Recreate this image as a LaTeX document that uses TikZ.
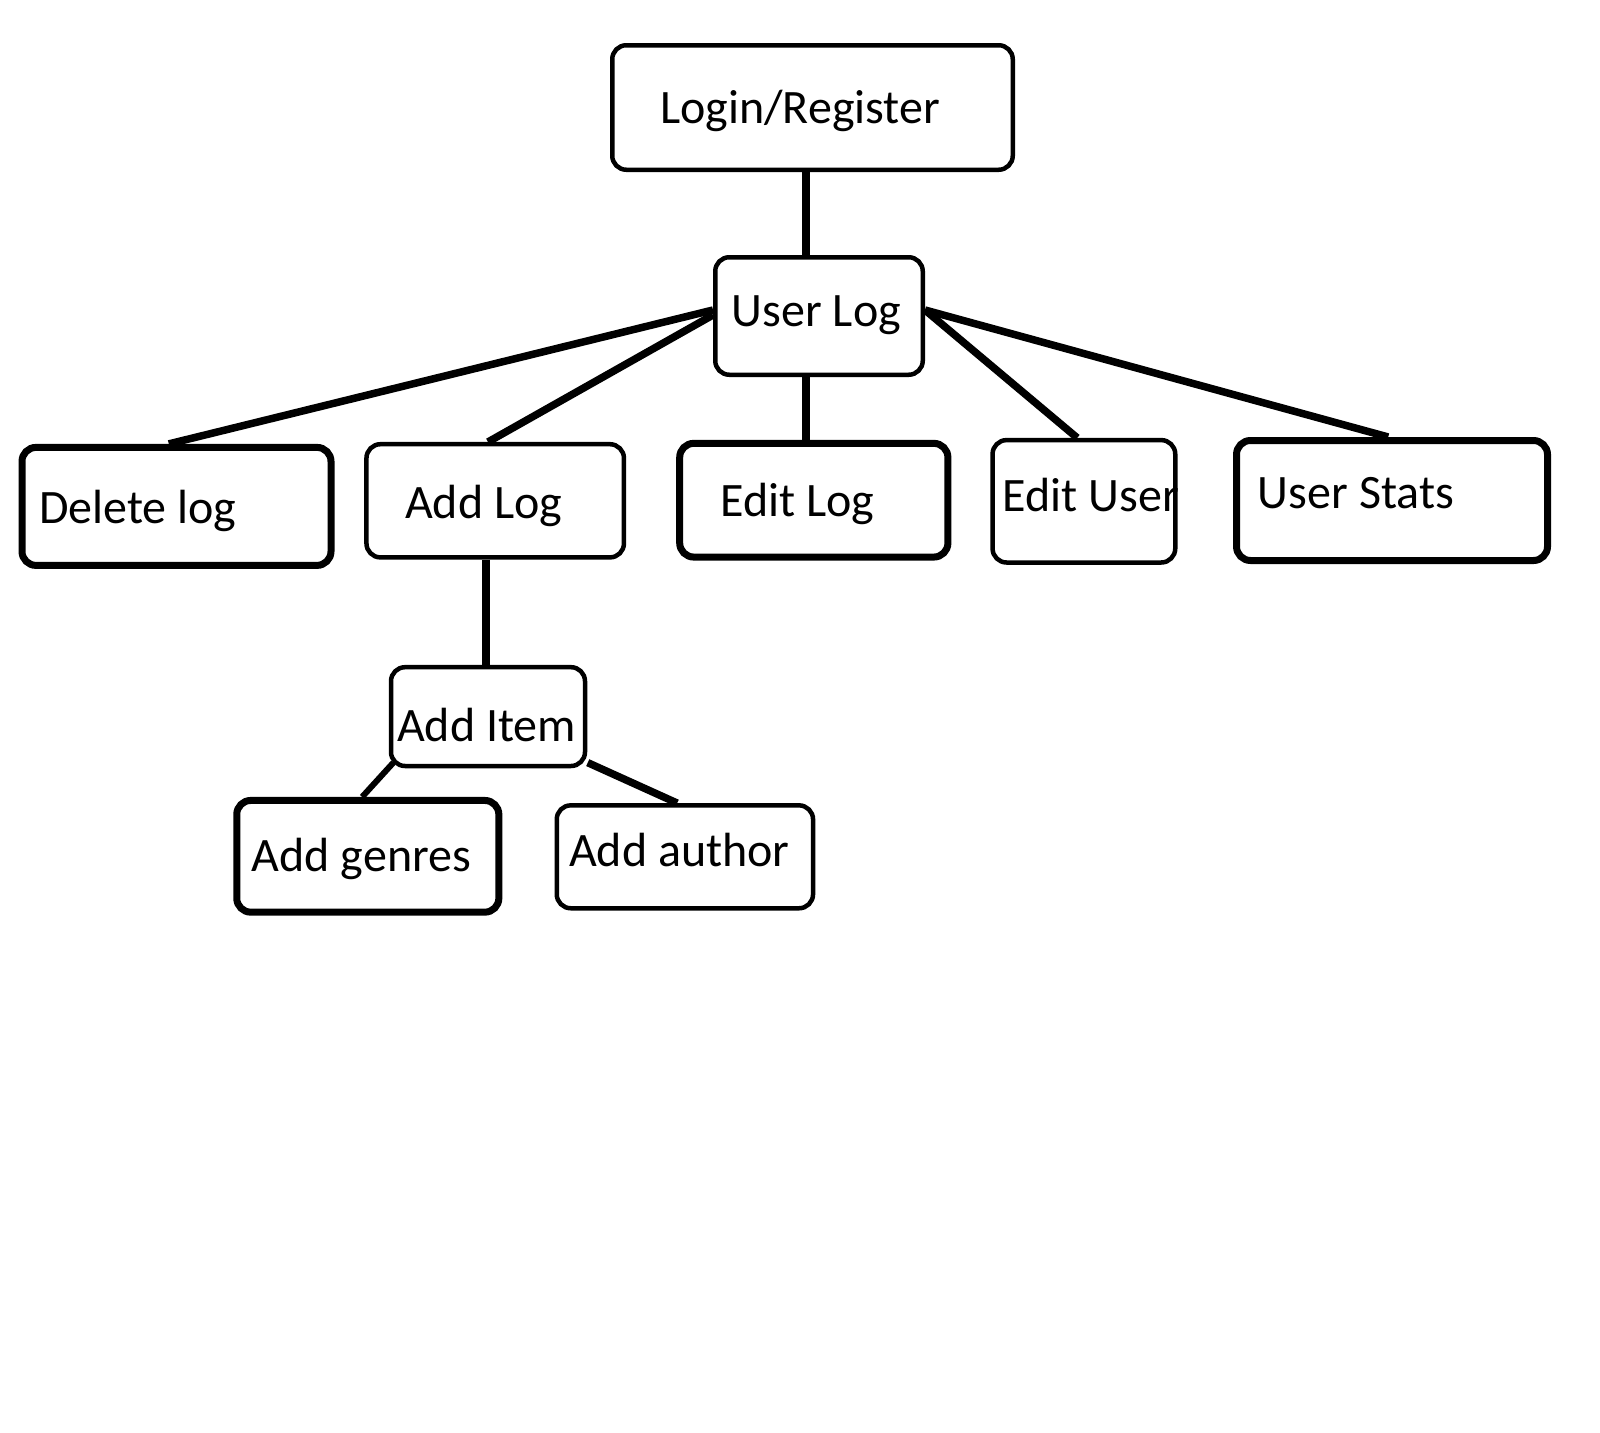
\documentclass[tikz,border=0pt]{standalone}
\usepackage{fontspec}
\setmainfont{Carlito}
\begin{document}
\begin{tikzpicture}[x=1pt,y=-1pt,
 box/.style={draw, rounded corners=14pt, line width=4.5pt, inner sep=0pt},
 thickbox/.style={box, line width=7pt},
 lbl/.style={anchor=base west, inner sep=0pt, font=\fontsize{48}{58}\selectfont},
 link/.style={line width=7.5pt},
 thinlink/.style={line width=6pt}]
\useasboundingbox (0,0) rectangle (1600,1432);
% boxes
\node[box, minimum width=400.5pt, minimum height=124.5pt] (login) at (812.5,107.5) {};
\node[box, minimum width=207.5pt, minimum height=117.5pt] (ul) at (819,316) {};
\node[thickbox, minimum width=309pt, minimum height=118pt] (dl) at (176.5,506.4) {};
\node[box, minimum width=257.5pt, minimum height=113.2pt] (al) at (495.2,500.8) {};
\node[thickbox, minimum width=268.2pt, minimum height=113.7pt] (el) at (813.8,500.2) {};
\node[box, minimum width=182.7pt, minimum height=122.4pt] (eu) at (1083.9,501.3) {};
\node[thickbox, minimum width=311pt, minimum height=120pt] (us) at (1392,500.5) {};
\node[box, minimum width=194pt, minimum height=98.8pt] (ai) at (488,716.6) {};
\node[thickbox, minimum width=262.1pt, minimum height=111.7pt] (ag) at (367.8,856.3) {};
\node[box, minimum width=256.3pt, minimum height=102.9pt] (aa) at (684.9,856.8) {};
% labels
\node[lbl] (tlogin) at (660,123.3) {Login/Register};
\node[lbl] (tul) at (731.7,326.7) {User Log};
\node[lbl] (tdl) at (38.9,523.8) {Delete log};
\node[lbl] (tal) at (405,518) {Add Log};
\node[lbl] (tel) at (720.2,516.6) {Edit Log};
\node[lbl] (teu) at (1002.5,511.5) {Edit User};
\node[lbl] (tus) at (1257.7,508.3) {User Stats};
\node[lbl] (tai) at (396.9,741.7) {Add Item};
\node[lbl] (tag) at (251.7,871.6) {Add genres};
\node[lbl] (taa) at (568.8,866.5) {Add author};
% connectors
\draw[link] ([xshift=-6.5pt]login.south) -- ([xshift=-13pt]ul.north);
\draw[link] ([yshift=6pt]ul.west) -- ([xshift=-7.7pt]dl.north);
\draw[link] ([yshift=1pt]ul.west) -- ([xshift=-7.2pt]al.north);
\draw[link] ([xshift=-13pt]ul.south) -- ([xshift=-7.8pt]el.north);
\draw[link] ([yshift=6pt]ul.east) -- ([xshift=-6.7pt]eu.north);
\draw[link] ([yshift=6pt]ul.east) -- ([xshift=-3.8pt]us.north);
\draw[link] ([xshift=-9.3pt]al.south) -- ([xshift=-2.1pt]ai.north);
\draw[thinlink] ([xshift=4.6pt,yshift=5.6pt]ai.south west) -- ([xshift=-5.7pt]ag.north);
\draw[link] ([xshift=0.5pt,yshift=5.6pt]ai.south east) -- ([xshift=-7.7pt]aa.north);
\end{tikzpicture}
\end{document}
